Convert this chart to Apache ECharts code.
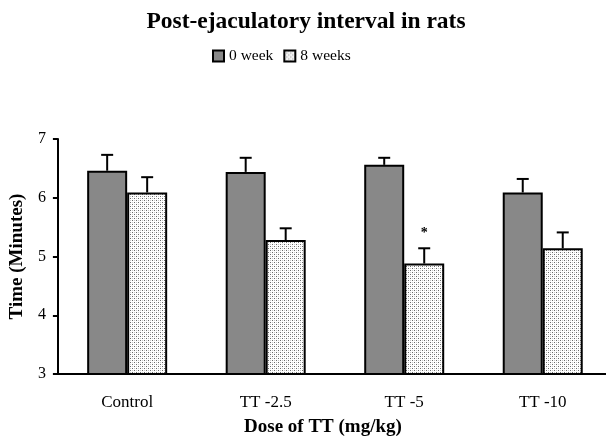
<!DOCTYPE html>
<html><head><meta charset="utf-8">
<script src="https://cdn.jsdelivr.net/npm/echarts@6/dist/echarts.min.js"></script>
<style>html,body{margin:0;padding:0;background:#fff;overflow:hidden}#c{width:612px;height:445px}</style>
</head><body><div id="c"></div>
<script>
const categories = ['Control', 'TT -2.5', 'TT -5', 'TT -10'];
const seriesNames = ['0 week', '8 weeks'];
const week0 = [6.46, 6.44, 6.56, 6.09];
const week0Err = [0.27, 0.24, 0.12, 0.23];
const week8 = [6.09, 5.28, 4.88, 5.14];
const week8Err = [0.26, 0.20, 0.26, 0.27];
const signif = ['', '', '*', ''];

const F = '"Liberation Serif", "DejaVu Serif", serif';
const pc = document.createElement('canvas');
pc.width = 4; pc.height = 4;
const g = pc.getContext('2d');
g.fillStyle = '#fff'; g.fillRect(0,0,4,4);
g.fillStyle = '#6a6a6a';
g.fillRect(0,0,1,1); g.fillRect(2,2,1,1);
g.fillStyle = '#c8c8c8';
g.fillRect(2,0,1,1); g.fillRect(0,2,1,1);

const BW = 40;
const chart = echarts.init(document.getElementById('c'));
function errSeries(vals, errs, off, marks) {
  return {
    type: 'custom', z: 5, silent: true,
    data: vals.map((v, i) => [i, v, v + errs[i], marks ? marks[i] : '']),
    renderItem: function (params, api) {
      const base = api.coord([api.value(0), api.value(1)]);
      const top = api.coord([api.value(0), api.value(2)]);
      const x = base[0] + off;
      const children = [
        {type: 'line', shape: {x1: x, y1: base[1], x2: x, y2: top[1]}, style: {stroke: '#000', lineWidth: 2}},
        {type: 'line', shape: {x1: x - 6, y1: top[1], x2: x + 6, y2: top[1]}, style: {stroke: '#000', lineWidth: 2}}
      ];
      const m = api.value(3);
      if (m) children.push({type: 'text', style: {text: m, x: x, y: top[1] - 8, textAlign: 'center', textVerticalAlign: 'bottom', font: 'bold 14px ' + F, fill: '#000'}});
      return {type: 'group', children: children};
    }
  };
}
chart.setOption({
  animation: false,
  backgroundColor: '#fff',
  title: {text: 'Post-ejaculatory interval in rats', left: 'center', top: 5,
    textStyle: {fontFamily: F, fontWeight: 'bold', fontSize: 23.5, color: '#000'}},
  legend: {top: 43, left: 207, itemWidth: 11, itemHeight: 11, itemGap: 10, icon: 'rect',
    textStyle: {fontFamily: F, fontSize: 15.5, color: '#000'},
    data: seriesNames},
  grid: {left: 56, top: 139, right: 0, height: 235, containLabel: false},
  xAxis: {type: 'category', data: categories,
    axisLine: {lineStyle: {color: '#000', width: 2}}, axisTick: {show: false},
    axisLabel: {fontFamily: F, fontSize: 17, color: '#000', margin: 20},
    name: 'Dose of TT (mg/kg)', nameLocation: 'middle', nameGap: 44,
    nameTextStyle: {fontFamily: F, fontWeight: 'bold', fontSize: 19, color: '#000', padding: [0,0,0,-24]}},
  yAxis: {type: 'value', min: 3, max: 7, interval: 1,
    axisLine: {show: true, lineStyle: {color: '#000', width: 2}},
    axisTick: {show: true, length: 5, lineStyle: {color: '#000', width: 2}},
    splitLine: {show: false},
    axisLabel: {fontFamily: F, fontSize: 16, color: '#000', margin: 12},
    name: 'Time (Minutes)', nameLocation: 'middle', nameGap: 28, nameRotate: 90,
    nameTextStyle: {fontFamily: F, fontWeight: 'bold', fontSize: 19, color: '#000'}},
  series: [
    {name: seriesNames[0], type: 'bar', data: week0, barWidth: BW, barGap: '0%',
      itemStyle: {color: '#888888', borderColor: '#000', borderWidth: 2}},
    {name: seriesNames[1], type: 'bar', data: week8, barWidth: BW, barGap: '0%',
      itemStyle: {color: {image: pc, repeat: 'repeat'}, borderColor: '#000', borderWidth: 2}},
    errSeries(week0, week0Err, -BW / 2, null),
    errSeries(week8, week8Err, BW / 2, signif)
  ]
});
</script></body></html>
